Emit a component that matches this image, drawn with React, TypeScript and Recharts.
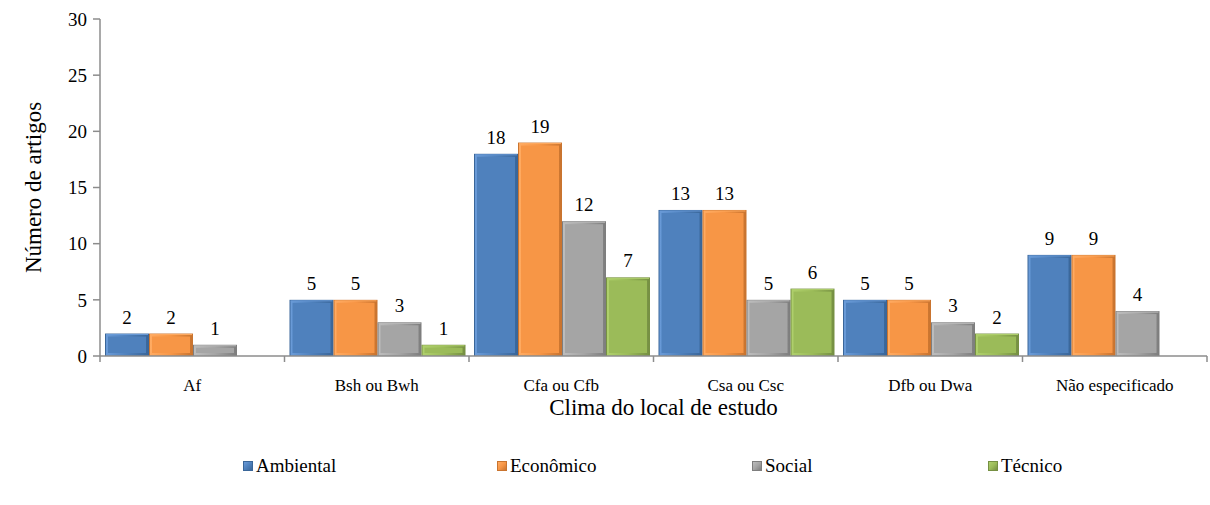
import React from "react";
import { BarChart, Bar, XAxis, YAxis, LabelList } from "recharts";

// Climate zones of the studied sites
const categories = ["Af", "Bsh ou Bwh", "Cfa ou Cfb", "Csa ou Csc", "Dfb ou Dwa", "Não especificado"];

// Number of articles per sustainability dimension
const ambiental = [2, 5, 18, 13, 5, 9];
const economico = [2, 5, 19, 13, 5, 9];
const social = [1, 3, 12, 5, 3, 4];
const tecnico = [null, 1, 7, 6, 2, null];

const yTicks = [0, 5, 10, 15, 20, 25, 30];

const series = [
  { key: "ambiental", name: "Ambiental", color: "#4F81BD", light: "#6A9BD8", dark: "#3A6699" },
  { key: "economico", name: "Econômico", color: "#F79646", light: "#FFAB62", dark: "#C9742F" },
  { key: "social", name: "Social", color: "#A5A5A5", light: "#BDBDBD", dark: "#7E7E7E" },
  { key: "tecnico", name: "Técnico", color: "#9BBB59", light: "#AFD06C", dark: "#769043" },
];

const data = categories.map((c, i) => ({
  category: c,
  ambiental: ambiental[i],
  economico: economico[i],
  social: social[i],
  tecnico: tecnico[i],
}));

const W = 1210;
const H = 505;
const MARGIN = { top: 19, right: 3, left: 0, bottom: 0 };
const Y_WIDTH = 100;
const X_HEIGHT = 149;
const FONT = "Liberation Serif, serif";
const AXIS = "#8C8C8C";

// Bevelled bar: darker rim and a soft highlight, like the classic office bevel
const makeBevel = (s: any) => (props: any) => {
  const { x, y, width, height } = props;
  if (!height || height <= 0) return <g />;
  const b = Math.min(3, width / 6, height / 2);
  return (
    <g>
      <rect x={x} y={y} width={width} height={height} fill={s.dark} />
      <rect x={x + 1} y={y + 1} width={width - 2} height={height - 1} fill={`url(#grad-${s.key})`} />
      <rect x={x + b} y={y + b} width={Math.max(0, width - 2 * b)} height={Math.max(0, height - 2 * b)} fill={s.color} />
      <line x1={x + 1} y1={y + 1} x2={x + width - 1} y2={y + 1} stroke={s.light} strokeWidth={1} />
    </g>
  );
};

// Category label plus boundary tick marks between groups
const XTick = (props: any) => {
  const { x, y, payload, index } = props;
  const plotW = W - MARGIN.right - Y_WIDTH;
  const band = plotW / categories.length;
  const left = x - band / 2;
  return (
    <g>
      <line x1={left} y1={y - 8} x2={left} y2={y - 2} stroke={AXIS} strokeWidth={1.5} />
      {index === categories.length - 1 && (
        <line x1={left + band} y1={y - 8} x2={left + band} y2={y - 2} stroke={AXIS} strokeWidth={1.5} />
      )}
      <text x={x} y={y + 27} textAnchor="middle" fontSize={17} fontFamily={FONT} fill="#000">
        {payload.value}
      </text>
    </g>
  );
};

const LegendRow = () => {
  const widths = [254, 255, 236, 200];
  return (
    <div
      style={{
        position: "absolute",
        top: 455,
        left: 0,
        width: W,
        display: "flex",
        paddingLeft: 243,
        boxSizing: "border-box",
        fontFamily: FONT,
        fontSize: 19,
        lineHeight: "22px",
        color: "#000",
      }}
    >
      {series.map((s, i) => (
        <div key={s.key} style={{ width: widths[i], display: "flex", alignItems: "center" }}>
          <span
            style={{
              display: "inline-block",
              width: 10,
              height: 10,
              marginRight: 3,
              background: `linear-gradient(135deg, ${s.light}, ${s.color} 50%, ${s.dark})`,
              border: `1px solid ${s.dark}`,
              boxSizing: "border-box",
            }}
          />
          <span style={{ fontFamily: FONT }}>{s.name}</span>
        </div>
      ))}
    </div>
  );
};

export default function App() {
  return (
    <div style={{ position: "absolute", left: 0, top: 0, width: W, height: H, fontFamily: FONT }}>
      <BarChart width={W} height={H} data={data} margin={MARGIN} barGap={0} barCategoryGap={5}>
        <defs>
          {series.map((s) => (
            <linearGradient key={s.key} id={`grad-${s.key}`} x1="0" y1="0" x2="1" y2="0">
              <stop offset="0" stopColor={s.light} />
              <stop offset="0.5" stopColor={s.color} />
              <stop offset="1" stopColor={s.dark} />
            </linearGradient>
          ))}
        </defs>
        <YAxis
          width={Y_WIDTH}
          domain={[0, 30]}
          ticks={yTicks}
          interval={0}
          axisLine={{ stroke: AXIS, strokeWidth: 1.5 }}
          tickLine={{ stroke: AXIS, strokeWidth: 1.5 }}
          tickSize={7}
          tickMargin={6}
          tick={{ fontSize: 19, fontFamily: FONT, fill: "#000" }}
          label={{
            content: (p: any) => {
              const vb = p.viewBox;
              const cx = 33;
              const cy = vb.y + vb.height / 2;
              return (
                <text
                  x={cx}
                  y={cy}
                  transform={`rotate(-90 ${cx} ${cy})`}
                  textAnchor="middle"
                  dominantBaseline="central"
                  fontSize={23}
                  fontFamily={FONT}
                  fill="#000"
                >
                  Número de artigos
                </text>
              );
            },
          }}
        />
        <XAxis
          dataKey="category"
          height={X_HEIGHT}
          interval={0}
          axisLine={{ stroke: AXIS, strokeWidth: 1.5 }}
          tickLine={false}
          tick={<XTick />}
          label={{
            content: (p: any) => {
              const vb = p.viewBox;
              return (
                <text
                  x={vb.x + vb.width / 2 + 10}
                  y={vb.y + 59}
                  textAnchor="middle"
                  fontSize={23}
                  fontFamily={FONT}
                  fill="#000"
                >
                  Clima do local de estudo
                </text>
              );
            },
          }}
        />
        {series.map((s) => (
          <Bar
            key={s.key}
            dataKey={s.key}
            name={s.name}
            fill={s.color}
            shape={makeBevel(s)}
            isAnimationActive={false}
          >
            <LabelList
              dataKey={s.key}
              position="top"
              offset={10}
              fontSize={19}
              fontFamily={FONT}
              fill="#000"
            />
          </Bar>
        ))}
      </BarChart>
      <LegendRow />
    </div>
  );
}
